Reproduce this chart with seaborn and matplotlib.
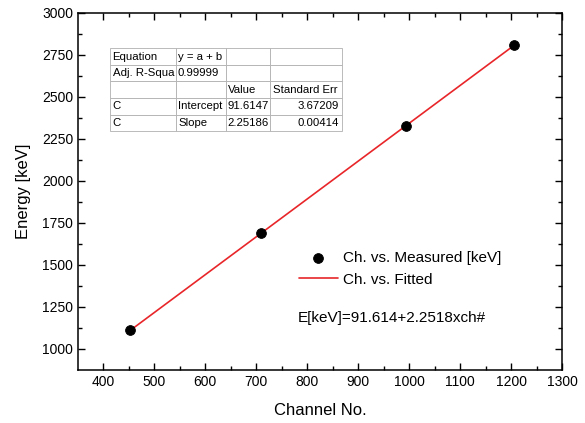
import numpy as np
import pandas as pd
import matplotlib
matplotlib.use("Agg")
import matplotlib.pyplot as plt
import seaborn as sns

# Data
channels = [452, 710, 993, 1205]
energies = [1112, 1692, 2328, 2808]
intercept = 91.6147
slope = 2.25186
table_rows = [
    ["Equation", "y = a + b", "", ""],
    ["Adj. R-Squa", "0.99999", "", ""],
    ["", "", "Value", "Standard Err"],
    ["C", "Intercept", "91.6147", "3.67209"],
    ["C", "Slope", "2.25186", "0.00414"],
]
x_ticks = [400, 500, 600, 700, 800, 900, 1000, 1100, 1200, 1300]
y_ticks = [1000, 1250, 1500, 1750, 2000, 2250, 2500, 2750, 3000]

sns.set_style("ticks")
plt.rcParams['font.family'] = ['Liberation Sans', 'DejaVu Sans']
plt.rcParams['text.color'] = 'black'
plt.rcParams['axes.labelcolor'] = 'black'
plt.rcParams['xtick.color'] = 'black'
plt.rcParams['ytick.color'] = 'black'

df = pd.DataFrame({"Channel": channels, "Energy": energies})
fit_x = np.array([channels[0], channels[-1]], dtype=float)
fit_df = pd.DataFrame({"Channel": fit_x, "Energy": intercept + slope * fit_x})

fig = plt.figure(figsize=(5.85, 4.23), dpi=100)
ax = fig.add_axes([0.1333, 0.1253, 0.8274, 0.8440])

sns.lineplot(data=fit_df, x="Channel", y="Energy", ax=ax, color="#e8262a", lw=1.2,
             label="Ch. vs. Fitted", zorder=2)
sns.scatterplot(data=df, x="Channel", y="Energy", ax=ax, color="black", s=50,
                edgecolor="black", label="Ch. vs. Measured [keV]", zorder=3)

ax.set_xlim(350, 1300)
ax.set_ylim(875, 3000)
ax.set_xticks(x_ticks)
ax.set_yticks(y_ticks)
ax.set_xticks(np.arange(450, 1300, 100), minor=True)
ax.set_yticks(np.arange(1125, 3000, 250), minor=True)
ax.tick_params(which="both", direction="in", top=True, right=True, labelsize=10,
               width=1.0, color="black", labelcolor="black")
ax.tick_params(which="major", length=5)
ax.tick_params(which="minor", length=3)
for s in ax.spines.values():
    s.set_linewidth(1.1)
    s.set_color("black")
ax.set_xlabel("Channel No.", fontsize=12, labelpad=10, color="black")
ax.set_ylabel("Energy [keV]", fontsize=12, labelpad=8, color="black")

h, l = ax.get_legend_handles_labels()
order = [l.index("Ch. vs. Measured [keV]"), l.index("Ch. vs. Fitted")]
leg = ax.legend([h[i] for i in order], [l[i] for i in order],
                loc="upper left", bbox_to_anchor=(0.44, 0.355), frameon=False,
                fontsize=11, handlelength=2.6, handletextpad=0.3,
                borderpad=0.0, labelspacing=0.5)

ax.text(0.455, 0.146, "E[keV]=91.614+2.2518xch#", transform=ax.transAxes,
        fontsize=11, ha="left", va="center", color="black")

tbl = ax.table(cellText=table_rows, cellLoc="left",
               bbox=[0.066, 0.669, 0.479, 0.232],
               colWidths=[0.285, 0.215, 0.19, 0.31])
tbl.auto_set_font_size(False)
tbl.set_fontsize(8.2)
for (r, c), cell in tbl.get_celld().items():
    cell.set_edgecolor("#b0b0b0")
    cell.set_linewidth(0.6)
    cell.PAD = 0.04
    cell.get_text().set_color("black")
    if c == 3 and r >= 3:
        cell._loc = "right"
        cell.get_text().set_ha("right")

fig.savefig("out.png", dpi=100)
